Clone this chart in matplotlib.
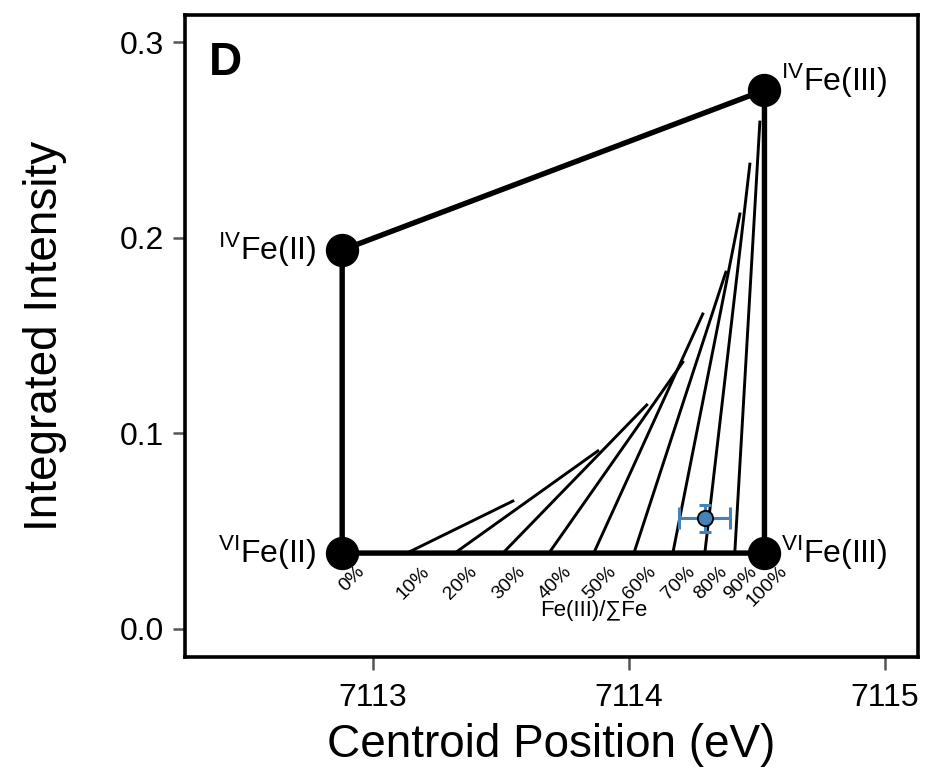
import matplotlib
matplotlib.use("Agg")
import matplotlib.pyplot as plt

plt.rcParams['font.family'] = ['Liberation Sans', 'DejaVu Sans']
plt.rcParams['mathtext.default'] = 'regular'

# end members: (centroid eV, integrated intensity)
ends = {
    "VI_II": (7112.88, 0.0388),
    "IV_II": (7112.88, 0.1937),
    "IV_III": (7114.53, 0.2754),
    "VI_III": (7114.53, 0.0388),
}

# tie lines for constant Fe(III)/sum Fe
pct = ["0%", "10%", "20%", "30%", "40%", "50%", "60%", "70%", "80%", "90%", "100%"]
tie_x0 = [7112.88, 7113.133, 7113.320, 7113.508, 7113.688, 7113.863, 7114.020, 7114.172, 7114.297, 7114.414, 7114.53]
tie_y0 = 0.0388
tie_x1 = [None, 7113.547, 7113.879, 7114.070, 7114.211, 7114.289, 7114.379, 7114.434, 7114.473, 7114.512, None]
tie_y1 = [None, 0.0654, 0.0910, 0.1145, 0.1364, 0.1610, 0.1824, 0.2121, 0.2376, 0.2591, None]

# sample
sample_x = 7114.297
sample_y = 0.0567
sample_xerr = 0.10
sample_yerr = 0.0069

fig = plt.figure(figsize=(9.27, 7.75), dpi=100)
ax = fig.add_axes([0.1996, 0.1523, 0.7907, 0.8283])

# tie lines
for i in range(1, 10):
    ax.plot([tie_x0[i], tie_x1[i]], [tie_y0, tie_y1[i]], color='black', lw=2.1, zorder=2)

# outline
order = ["VI_II", "IV_II", "IV_III", "VI_III", "VI_II"]
ax.plot([ends[k][0] for k in order], [ends[k][1] for k in order], color='black', lw=3.9, zorder=3)
ax.plot([ends[k][0] for k in order[:4]], [ends[k][1] for k in order[:4]], 'o', color='black',
        markersize=23, zorder=4, linestyle='none')

blue = '#4682b4'
ax.errorbar(sample_x, sample_y, xerr=sample_xerr, fmt='none', ecolor=blue, elinewidth=2.2,
            capsize=8, capthick=2.2, zorder=5)
ax.errorbar(sample_x, sample_y, yerr=sample_yerr, fmt='none', ecolor=blue, elinewidth=2.2,
            capsize=4.5, capthick=2.2, zorder=5)
ax.plot(sample_x, sample_y, 'o', mfc=blue, mec='black', mew=1.3, markersize=11, zorder=6)

# percent labels
narrow = ['Liberation Sans Narrow', 'Liberation Sans', 'DejaVu Sans']
for x, p in zip(tie_x0, pct):
    ax.annotate(p, (x, tie_y0), xytext=(10, -7), textcoords='offset points', rotation=45,
                rotation_mode='anchor', ha='right', va='top', fontsize=14, family=narrow)
ax.text(tie_x0[5], 0.0095, "Fe(III)/\u2211Fe", ha='center', va='center', fontsize=16)

# end member labels
lab = 23
ax.annotate(r"$^{VI}$Fe(II)", ends["VI_II"], xytext=(-19, 0), textcoords='offset points',
            ha='right', va='center', fontsize=lab)
ax.annotate(r"$^{IV}$Fe(II)", ends["IV_II"], xytext=(-19, 0), textcoords='offset points',
            ha='right', va='center', fontsize=lab)
ax.annotate(r"$^{IV}$Fe(III)", ends["IV_III"], xytext=(12, 7), textcoords='offset points',
            ha='left', va='center', fontsize=lab)
ax.annotate(r"$^{VI}$Fe(III)", ends["VI_III"], xytext=(12, 0), textcoords='offset points',
            ha='left', va='center', fontsize=lab)

ax.text(0.033, 0.96, "D", transform=ax.transAxes, fontsize=33, fontweight='bold', va='top', ha='left')

ax.set_xlim(7112.266, 7115.13)
ax.set_ylim(-0.0143, 0.3138)
ax.set_xticks([7113, 7114, 7115])
ax.set_yticks([0.0, 0.1, 0.2, 0.3])
ax.set_yticklabels(["0.0", "0.1", "0.2", "0.3"])
ax.tick_params(direction='out', length=9, width=1.8, color='#555555', labelsize=23)
ax.tick_params(axis='x', pad=10)
ax.tick_params(axis='y', pad=6)
for s in ax.spines.values():
    s.set_linewidth(2.6)

ax.set_xlabel("Centroid Position (eV)", fontsize=33, labelpad=7)
ax.set_ylabel("Integrated Intensity", fontsize=33, labelpad=38)

fig.savefig("out.png", dpi=100)
